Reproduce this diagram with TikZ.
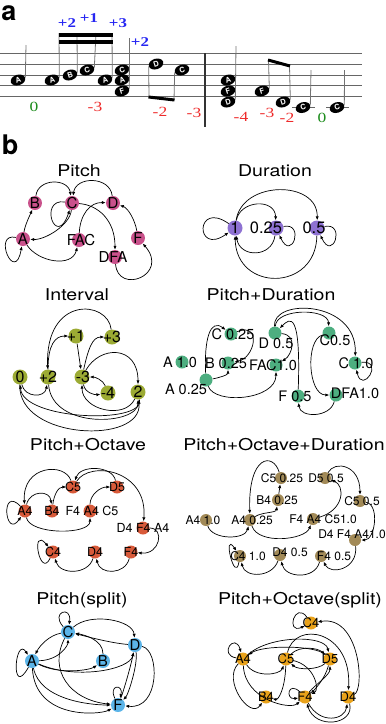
\documentclass[tikz,border=0pt]{standalone}
\usepackage{fontspec}
\setmainfont{TeX Gyre Heros}
\newfontfamily\ttlfont{TeX Gyre Heros}[FakeStretch=1.2]
\newfontfamily\numfont{Liberation Serif}[FakeStretch=1.25]
\usetikzlibrary{arrows.meta, shapes.geometric}
\definecolor{ColPitch}{HTML}{C9518B}
\definecolor{ColDur}{HTML}{8E72D2}
\definecolor{ColInt}{HTML}{9CAB34}
\definecolor{ColPD}{HTML}{4DAE80}
\definecolor{ColPO}{HTML}{D85A3A}
\definecolor{ColPOD}{HTML}{A28A57}
\definecolor{ColPS}{HTML}{5BB4E8}
\definecolor{ColPOS}{HTML}{E9A21A}
\definecolor{NumBlue}{HTML}{2626F2}
\definecolor{NumRed}{HTML}{EE2A2A}
\definecolor{NumGreen}{HTML}{1C8C1C}
\tikzset{
  notehead/.style={ellipse, fill=black, minimum width=15pt, minimum height=10.5pt,
    inner sep=0pt, rotate=18, text=white, font=\bfseries\fontsize{7.5}{7.5}\selectfont},
  notestem/.style={line width=0.8pt, draw=black!55},
  staffline/.style={line width=0.8pt, draw=black!60},
  notebeam/.style={line width=3pt, draw=black},
  upnum/.style={text=NumBlue, font=\numfont\bfseries\fontsize{13.5}{13.5}\selectfont},
  dnnum/.style={text=NumRed, font=\numfont\fontsize{14}{14}\selectfont},
  zenum/.style={text=NumGreen, font=\numfont\fontsize{14}{14}\selectfont},
  panel/.style={inner sep=0pt, font=\bfseries\fontsize{27}{27}\selectfont},
  ttl/.style={font=\ttlfont\fontsize{16.3}{18}\selectfont},
  vtx/.style={circle, inner sep=0pt, minimum size=14pt},
  tx/.style n args={3}{label={[xshift=#1pt, yshift=#2pt, inner sep=0pt]center:#3}},
  ed/.style={-{Latex[length=4pt,width=3.2pt]}, line width=0.7pt},
}
\begin{document}
\begin{tikzpicture}[x=1pt, y=1pt]
  \useasboundingbox (0,0) rectangle (386,-724);
  % panel a
  \node[panel] (la) at (9,-13) {a};
  \draw[staffline] (0,-53.3) -- (362,-53.3);
  \draw[staffline] (0,-64.3) -- (362,-64.3);
  \draw[staffline] (0,-75) -- (362,-75);
  \draw[staffline] (0,-85.7) -- (362,-85.7);
  \draw[staffline] (0,-96.7) -- (362,-96.7);
  \draw[line width=1.3pt, black!80] (205,-53) -- (205,-127);
  \draw[staffline] (292,-107.5) -- (315,-107.5);
  \draw[staffline] (326,-107.5) -- (349,-107.5);
  \node[notehead] (nA1) at (18,-80) {A};
  \node[notehead] (nA2) at (52,-80) {A};
  \node[notehead] (nB1) at (70,-75) {B};
  \node[notehead] (nC1) at (87,-70) {C};
  \node[notehead] (nA3) at (105,-80) {A};
  \node[notehead] (nC2) at (122,-70) {C};
  \node[notehead] (nA4) at (122,-80) {A};
  \node[notehead] (nF1) at (122,-91) {F};
  \node[notehead] (nD1) at (156,-64) {D};
  \node[notehead] (nC3) at (182,-70) {C};
  \node[notehead] (nA5) at (228,-80) {A};
  \node[notehead] (nF2) at (228,-91) {F};
  \node[notehead] (nD2) at (228,-102) {D};
  \node[notehead] (nF3) at (262,-91) {F};
  \node[notehead] (nD3) at (283,-102) {D};
  \node[notehead] (nC4) at (303,-107.5) {C};
  \node[notehead] (nC5) at (337,-107.5) {C};
  \draw[notestem] (nA1.east) -- (26,-45);
  \draw[notestem] (nA2.east) -- (59,-33);
  \draw[notestem] (nB1.east) -- (77,-33);
  \draw[notestem] (nC1.east) -- (96,-33);
  \draw[notestem] (nA3.east) -- (112,-33);
  \draw[notestem] (nF1.east) -- (129.5,-38);
  \draw[notestem] (nD1.west) -- (149,-97);
  \draw[notestem] (nC3.west) -- (174,-100);
  \draw[notestem] (nD2.east) -- (236,-46);
  \draw[notestem] (nF3.east) -- (268.5,-60);
  \draw[notestem] (nD3.east) -- (289.5,-66);
  \draw[notestem] (nC4.east) -- (311,-70);
  \draw[notestem] (nC5.east) -- (344.5,-70);
  \fill (58.5,-33) rectangle (112.5,-36.5);
  \fill (58.5,-40) rectangle (112.5,-43.5);
  \draw[notebeam] (148.5,-97) -- (174.5,-100);
  \draw[notebeam] (268,-60) -- (290,-66);
  \node[upnum] (u1) at (67,-23) {+2};
  \node[upnum] (u2) at (89,-18) {+1};
  \node[upnum] (u3) at (118,-23) {+3};
  \node[upnum] (u4) at (140,-42) {+2};
  \node[zenum] (z1) at (34,-107) {0};
  \node[dnnum] (r1) at (95,-107) {-3};
  \node[dnnum] (r2) at (160,-112) {-2};
  \node[dnnum] (r3) at (194,-113) {-3};
  \node[dnnum] (r4) at (241,-117) {-4};
  \node[dnnum] (r5) at (267,-113) {-3};
  \node[dnnum] (r6) at (287,-118) {-2};
  \node[zenum] (z2) at (322,-118) {0};
  % panel b
  \node[panel] (lb) at (10,-145) {b};
  \begin{scope}[every label/.append style={font=\fontsize{15}{15}\selectfont}]
    \node[ttl] (tPitch) at (79,-171) {Pitch};
    \node[vtx, fill=ColPitch, tx={0}{0}{B}] (pB) at (35,-203) {};
    \node[vtx, fill=ColPitch, tx={0}{0}{C}] (pC) at (72,-203) {};
    \node[vtx, fill=ColPitch, tx={0}{0}{D}] (pD) at (113,-203) {};
    \node[vtx, fill=ColPitch, tx={0}{0}{A}] (pA) at (23,-239) {};
    \node[vtx, fill=ColPitch, tx={2}{0}{FAC}] (pFAC) at (79,-240) {};
    \node[vtx, fill=ColPitch, tx={0}{0}{F}] (pF) at (138,-238) {};
    \node[vtx, fill=ColPitch, tx={-2}{0}{DFA}] (pDFA) at (115,-257) {};
    \draw[ed] (pB) .. controls (38,-178) and (68,-178) .. (pC);
    \draw[ed] (pD) .. controls (110,-176) and (76,-176) .. (pC);
    \draw[ed] (pA) .. controls (25,-225) and (30,-215) .. (pB);
    \draw[ed] (pC) .. controls (38,-198) and (56,-250) .. (pC);
    \draw[ed] (pC) .. controls (70,-225) and (45,-240) .. (pA);
    \draw[ed] (pA) .. controls (-8,-232) and (15,-285) .. (pA);
    \draw[ed] (pA) .. controls (38,-262) and (72,-268) .. (pFAC);
    \draw[ed] (pFAC) .. controls (80,-215) and (90,-202) .. (pD);
    \draw[ed] (pC) .. controls (98,-205) and (115,-220) .. (pDFA);
    \draw[ed] (pF) .. controls (135,-220) and (128,-208) .. (pD);
    \draw[ed] (pDFA) .. controls (118,-295) and (170,-275) .. (pF);
  \end{scope}
  \begin{scope}[every label/.append style={font=\fontsize{16.5}{16.5}\selectfont}]
    \node[ttl] (tDur) at (275,-171) {Duration};
    \node[vtx, fill=ColDur, minimum size=15pt, tx={0}{0}{1}] (d1) at (235,-228) {};
    \node[vtx, fill=ColDur, minimum size=15pt, tx={-10}{0}{0.25}] (d025) at (276,-228) {};
    \node[vtx, fill=ColDur, minimum size=15pt, tx={-3}{0}{0.5}] (d05) at (317,-228) {};
    \draw[ed] (d1) .. controls (195,-200) and (195,-256) .. (d1);
    \draw[ed] (d1) .. controls (240,-200) and (275,-198) .. (d025);
    \draw[ed] (d025) .. controls (272,-258) and (240,-258) .. (d1);
    \draw[ed] (d025) .. controls (305,-222) and (292,-262) .. (d025);
    \draw[ed] (d1) .. controls (242,-180) and (318,-180) .. (d05);
    \draw[ed] (d05) .. controls (316,-292) and (236,-292) .. (d1);
    \draw[ed] (d05) .. controls (346,-222) and (333,-262) .. (d05);
  \end{scope}
  \begin{scope}[every label/.append style={font=\fontsize{16}{16}\selectfont}]
    \node[ttl] (tInt) at (77,-295) {Interval};
    \node[vtx, fill=ColInt, minimum size=15pt, tx={0}{0}{0}] (i0) at (20,-377) {};
    \node[vtx, fill=ColInt, minimum size=15pt, tx={0}{0}{+2}] (ip2) at (48,-377) {};
    \node[vtx, fill=ColInt, minimum size=15pt, tx={0}{0}{+1}] (ip1) at (76,-336) {};
    \node[vtx, fill=ColInt, minimum size=15pt, tx={0}{0}{+3}] (ip3) at (112,-337) {};
    \node[vtx, fill=ColInt, minimum size=15pt, tx={1}{0}{-3}] (im3) at (82,-377) {};
    \node[vtx, fill=ColInt, minimum size=15pt, tx={0}{0}{-4}] (im4) at (108,-393) {};
    \node[vtx, fill=ColInt, minimum size=15pt, tx={0}{0}{2}] (i2) at (138,-392) {};
    \draw[ed] (i0) .. controls (25,-398) and (45,-398) .. (ip2);
    \draw[ed] (ip2) .. controls (48,-345) and (55,-336) .. (ip1);
    \draw[ed] (ip3) .. controls (108,-300) and (45,-295) .. (ip2);
    \draw[ed] (ip1) -- (im3);
    \draw[ed] (im3) .. controls (88,-350) and (92,-337) .. (ip3);
    \draw[ed] (im3) .. controls (100,-345) and (138,-345) .. (i2);
    \draw[ed] (im4) .. controls (103,-380) and (95,-377) .. (im3);
    \draw[ed] (im3) .. controls (85,-393) and (95,-395) .. (im4);
    \draw[ed] (i2) .. controls (125,-420) and (82,-410) .. (im3);
    \draw[ed] (ip2) .. controls (52,-430) and (138,-425) .. (i2);
    \draw[ed] (i0) .. controls (18,-440) and (143,-445) .. (i2);
    \draw[ed] (i2) .. controls (145,-425) and (22,-420) .. (i0);
  \end{scope}
  \begin{scope}[every label/.append style={font=\fontsize{14.5}{14.5}\selectfont}]
    \node[ttl] (tPD) at (271,-295) {Pitch+Duration};
    \node[vtx, fill=ColPD, minimum size=13pt, tx={2}{0}{C 0.25}] (pdC025) at (231,-334) {};
    \node[vtx, fill=ColPD, minimum size=13pt, tx={1}{-10}{D 0.5}] (pdD05) at (275,-333) {};
    \node[vtx, fill=ColPD, minimum size=13pt, tx={6}{-7}{C0.5}] (pdC05) at (329,-333) {};
    \node[vtx, fill=ColPD, minimum size=13pt, tx={-2}{0}{B 0.25}] (pdB025) at (228,-363) {};
    \node[vtx, fill=ColPD, minimum size=13pt, tx={-3}{0}{FAC1.0}] (pdFAC) at (276,-365) {};
    \node[vtx, fill=ColPD, minimum size=13pt, tx={1}{0}{C 1.0}] (pdC10) at (355,-363) {};
    \node[vtx, fill=ColPD, minimum size=13pt, tx={-20}{-9}{A 0.25}] (pdA025) at (206,-380) {};
    \node[vtx, fill=ColPD, minimum size=13pt, tx={-2}{0}{A 1.0}] (pdA10) at (182,-362) {};
    \node[vtx, fill=ColPD, minimum size=13pt, tx={-3}{0}{F 0.5}] (pdF05) at (298,-396) {};
    \node[vtx, fill=ColPD, minimum size=13pt, tx={19}{2}{DFA1.0}] (pdDFA) at (336,-395) {};
    \draw[ed] (pdA025) .. controls (204,-340) and (210,-318) .. (pdC025);
    \draw[ed] (pdC025) .. controls (262,-322) and (255,-358) .. (pdB025);
    \draw[ed] (pdA025) .. controls (218,-378) and (228,-375) .. (pdB025);
    \draw[ed] (pdA025) .. controls (215,-405) and (276,-400) .. (pdFAC);
    \draw[ed] (pdF05) .. controls (301,-310) and (290,-318) .. (pdD05);
    \draw[ed] (pdD05) .. controls (276,-308) and (328,-308) .. (pdC05);
    \draw[ed] (pdD05) .. controls (272,-298) and (357,-300) .. (pdC10);
    \draw[ed] (pdD05) .. controls (298,-335) and (292,-355) .. (pdFAC);
    \draw[ed] (pdC05) .. controls (305,-340) and (308,-395) .. (pdDFA);
    \draw[ed] (pdDFA) .. controls (330,-418) and (300,-418) .. (pdF05);
    \draw[ed] (pdC10) .. controls (385,-360) and (362,-395) .. (pdC10);
  \end{scope}
  \begin{scope}[every label/.append style={font=\fontsize{12.5}{12.5}\selectfont}]
    \node[ttl] (tPO) at (88,-445) {Pitch+Octave};
    \node[vtx, fill=ColPO, minimum size=13pt, tx={0}{0}{C5}] (poC5) at (73,-487) {};
    \node[vtx, fill=ColPO, minimum size=13pt, tx={0}{0}{D5}] (poD5) at (117,-487) {};
    \node[vtx, fill=ColPO, minimum size=13pt, tx={0}{0}{A4}] (poA4) at (25,-511) {};
    \node[vtx, fill=ColPO, minimum size=13pt, tx={0}{0}{B4}] (poB4) at (52,-511) {};
    \node[vtx, fill=ColPO, minimum size=13pt, tx={2}{0}{F4 A4 C5}] (poFAC) at (90,-511) {};
    \node[vtx, fill=ColPO, minimum size=13pt, tx={0}{0}{D4 F4 A4}] (poDFA) at (143,-528) {};
    \node[vtx, fill=ColPO, minimum size=13pt, tx={0}{0}{C4}] (poC4) at (53,-552) {};
    \node[vtx, fill=ColPO, minimum size=13pt, tx={0}{0}{D4}] (poD4) at (95,-552) {};
    \node[vtx, fill=ColPO, minimum size=13pt, tx={0}{0}{F4}] (poF4) at (131,-552) {};
    \draw[ed] (poA4) .. controls (0,-485) and (5,-540) .. (poA4);
    \draw[ed] (poA4) .. controls (30,-490) and (50,-490) .. (poB4);
    \draw[ed] (poB4) .. controls (54,-495) and (58,-487) .. (poC5);
    \draw[ed] (poC5) .. controls (65,-462) and (22,-465) .. (poA4);
    \draw[ed] (poD5) .. controls (112,-465) and (80,-465) .. (poC5);
    \draw[ed] (poC5) .. controls (90,-460) and (148,-470) .. (poDFA);
    \draw[ed] (poFAC) .. controls (90,-495) and (100,-487) .. (poD5);
    \draw[ed] (poA4) .. controls (30,-535) and (90,-535) .. (poFAC);
    \draw[ed] (poDFA) .. controls (165,-528) and (160,-555) .. (poF4);
    \draw[ed] (poC4) .. controls (40,-580) and (30,-525) .. (poC4);
    \draw[ed] (poD4) .. controls (88,-575) and (60,-575) .. (poC4);
    \draw[ed] (poF4) .. controls (125,-575) and (100,-575) .. (poD4);
  \end{scope}
  \begin{scope}[every label/.append style={font=\fontsize{12}{12}\selectfont}]
    \node[ttl] (tPOD) at (284,-445) {Pitch+Octave+Duration};
    \node[vtx, fill=ColPOD, minimum size=12pt, tx={1}{0}{C5 0.25}] (podC525) at (281,-478) {};
    \node[vtx, fill=ColPOD, minimum size=12pt, tx={1}{0}{D5 0.5}] (podD505) at (325,-478) {};
    \node[vtx, fill=ColPOD, minimum size=12pt, tx={-1}{0}{B4 0.25}] (podB425) at (278,-500) {};
    \node[vtx, fill=ColPOD, minimum size=12pt, tx={2}{0}{C5 0.5}] (podC505) at (360,-501) {};
    \node[vtx, fill=ColPOD, minimum size=12pt, tx={-3}{0}{A4 1.0}] (podA410) at (206,-520) {};
    \node[vtx, fill=ColPOD, minimum size=12pt, tx={2}{0}{A4 0.25}] (podA425) at (250,-520) {};
    \node[vtx, fill=ColPOD, minimum size=12pt, tx={10}{0}{F4 A4 C51.0}] (podFAC) at (313,-519) {};
    \node[vtx, fill=ColPOD, minimum size=12pt, tx={-3}{6}{D4 F4 A41.0}] (podDFA) at (355,-540) {};
    \node[vtx, fill=ColPOD, minimum size=12pt, tx={8}{0}{C4 1.0}] (podC410) at (240,-556) {};
    \node[vtx, fill=ColPOD, minimum size=12pt, tx={10}{3}{D4 0.5}] (podD405) at (280,-555) {};
    \node[vtx, fill=ColPOD, minimum size=12pt, tx={13}{0}{F4 0.5}] (podF405) at (321,-556) {};
    \draw[ed] (podA410) .. controls (212,-540) and (245,-540) .. (podA425);
    \draw[ed] (podA425) .. controls (262,-512) and (276,-513) .. (podB425);
    \draw[ed] (podB425) -- (podC525);
    \draw[ed] (podC525) .. controls (273,-452) and (248,-455) .. (podA425);
    \draw[ed] (podA425) .. controls (258,-545) and (305,-540) .. (podFAC);
    \draw[ed] (podFAC) .. controls (345,-510) and (345,-485) .. (podD505);
    \draw[ed] (podD505) .. controls (335,-460) and (360,-465) .. (podC505);
    \draw[ed] (podC505) .. controls (380,-505) and (375,-540) .. (podDFA);
    \draw[ed] (podDFA) .. controls (358,-570) and (330,-575) .. (podF405);
    \draw[ed] (podF405) .. controls (315,-580) and (285,-578) .. (podD405);
    \draw[ed] (podD405) .. controls (272,-578) and (245,-578) .. (podC410);
    \draw[ed] (podC410) .. controls (235,-585) and (222,-530) .. (podC410);
  \end{scope}
  \begin{scope}[every label/.append style={font=\fontsize{15}{15}\selectfont}]
    \node[ttl] (tPS) at (82,-600) {Pitch(split)};
    \node[vtx, fill=ColPS, tx={0}{0}{C}] (psC) at (68,-632) {};
    \node[vtx, fill=ColPS, tx={0}{0}{A}] (psA) at (32,-661) {};
    \node[vtx, fill=ColPS, tx={0}{0}{B}] (psB) at (103,-661) {};
    \node[vtx, fill=ColPS, tx={0}{0}{D}] (psD) at (135,-645) {};
    \node[vtx, fill=ColPS, tx={0}{0}{F}] (psF) at (118,-705) {};
    \draw[ed] (psC) .. controls (50,-612) and (72,-605) .. (psC);
    \draw[ed] (psA) .. controls (10,-700) and (15,-635) .. (psA);
    \draw[ed] (psC) .. controls (50,-635) and (40,-645) .. (psA);
    \draw[ed] (psA) .. controls (60,-660) and (68,-645) .. (psC);
    \draw[ed] (psC) .. controls (90,-612) and (133,-620) .. (psD);
    \draw[ed] (psD) .. controls (110,-643) and (85,-636) .. (psC);
    \draw[ed] (psB) .. controls (103,-640) and (85,-635) .. (psC);
    \draw[ed] (psA) .. controls (60,-675) and (90,-670) .. (psB);
    \draw[ed] (psA) .. controls (75,-680) and (130,-670) .. (psD);
    \draw[ed] (psA) .. controls (40,-700) and (90,-705) .. (psF);
    \draw[ed] (psA) .. controls (35,-720) and (100,-715) .. (psF);
    \draw[ed] (psC) .. controls (48,-670) and (70,-700) .. (psF);
    \draw[ed] (psF) .. controls (108,-684) and (124,-684) .. (psF);
    \draw[ed] (psF) .. controls (124,-690) and (131,-665) .. (psD);
    \draw[ed] (psD) .. controls (138,-665) and (128,-695) .. (psF);
    \draw[ed] (psD) .. controls (160,-650) and (160,-710) .. (psF);
  \end{scope}
  \begin{scope}[every label/.append style={font=\fontsize{13}{13}\selectfont}]
    \node[ttl] (tPOS) at (300,-600) {Pitch+Octave(split)};
    \node[vtx, fill=ColPOS, minimum size=13pt, tx={0}{0}{C4}] (posC4) at (311,-623) {};
    \node[vtx, fill=ColPOS, minimum size=13pt, tx={0}{0}{A4}] (posA4) at (243,-659) {};
    \node[vtx, fill=ColPOS, minimum size=13pt, tx={0}{0}{C5}] (posC5) at (286,-659) {};
    \node[vtx, fill=ColPOS, minimum size=13pt, tx={0}{0}{D5}] (posD5) at (330,-659) {};
    \node[vtx, fill=ColPOS, minimum size=13pt, tx={0}{0}{B4}] (posB4) at (266,-697) {};
    \node[vtx, fill=ColPOS, minimum size=13pt, tx={0}{0}{F4}] (posF4) at (305,-697) {};
    \node[vtx, fill=ColPOS, minimum size=13pt, tx={0}{0}{D4}] (posD4) at (348,-697) {};
    \draw[ed] (posC4) .. controls (295,-600) and (285,-635) .. (posC4);
    \draw[ed] (posD4) .. controls (365,-690) and (360,-615) .. (posC4);
    \draw[ed] (posA4) .. controls (218,-655) and (235,-632) .. (posA4);
    \draw[ed] (posA4) .. controls (270,-635) and (325,-635) .. (posD5);
    \draw[ed] (posD5) .. controls (315,-645) and (262,-645) .. (posA4);
    \draw[ed] (posC5) .. controls (300,-645) and (318,-648) .. (posD5);
    \draw[ed] (posD5) .. controls (318,-670) and (298,-670) .. (posC5);
    \draw[ed] (posC5) .. controls (295,-620) and (352,-630) .. (posD4);
    \draw[ed] (posA4) .. controls (255,-678) and (280,-675) .. (posC5);
    \draw[ed] (posC5) .. controls (285,-690) and (278,-700) .. (posB4);
    \draw[ed] (posA4) .. controls (222,-680) and (250,-720) .. (posB4);
    \draw[ed] (posA4) .. controls (245,-700) and (290,-710) .. (posF4);
    \draw[ed] (posF4) .. controls (288,-680) and (285,-700) .. (posF4);
    \draw[ed] (posC5) .. controls (315,-665) and (320,-690) .. (posF4);
    \draw[ed] (posF4) .. controls (315,-685) and (330,-675) .. (posD5);
    \draw[ed] (posD5) .. controls (325,-680) and (312,-692) .. (posF4);
    \draw[ed] (posF4) .. controls (320,-725) and (345,-720) .. (posD4);
    \draw[ed] (posD4) .. controls (355,-725) and (315,-730) .. (posF4);
  \end{scope}
\end{tikzpicture}
\end{document}
